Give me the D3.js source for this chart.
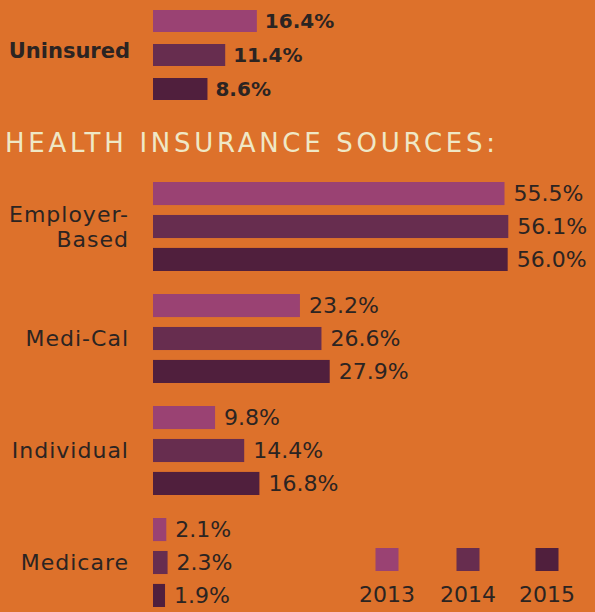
<!DOCTYPE html>
<html lang="en">
<head>
    <meta charset="UTF-8">
    <title>Health Insurance Sources</title>
    <script src="https://d3js.org/d3.v7.min.js"></script>
    <style>
        body { margin: 0; background: #dd712b; }
        svg { display: block; font-family: "DejaVu Sans", sans-serif; }
        .val { fill: #2b2422; font-size: 22px; }
        .cat { fill: #2b2422; font-size: 22px; letter-spacing: 1px; }
        .bold { font-weight: 700; letter-spacing: 0; }
    </style>
</head>
<body>
    <svg width="595" height="612"></svg>

    <script>
        // data
        const years = ['2013', '2014', '2015'];
        const uninsured = [16.4, 11.4, 8.6];
        const sources = ['Employer-Based', 'Medi-Cal', 'Individual', 'Medicare'];
        const employer = [55.5, 56.1, 56.0];
        const mediCal = [23.2, 26.6, 27.9];
        const individual = [9.8, 14.4, 16.8];
        const medicare = [2.1, 2.3, 1.9];
        const sourceValues = [employer, mediCal, individual, medicare];

        const colors = ['#9a4273', '#672d4f', '#501f3d'];
        const width = 595, height = 612;
        const x0 = 153;

        const svg = d3.select('svg');
        svg.append('rect').attr('width', width).attr('height', height).attr('fill', '#dd712b');

        const x = d3.scaleLinear().domain([0, 60]).range([0, 380]);
        const color = d3.scaleOrdinal().domain(years).range(colors);

        // uninsured block
        const yU = d3.scaleBand().domain(years).range([10, 100]).paddingInner(0.353);
        const gU = svg.append('g');
        gU.selectAll('rect')
            .data(uninsured)
            .join('rect')
            .attr('x', x0)
            .attr('y', (d, i) => yU(years[i]))
            .attr('width', d => x(d))
            .attr('height', yU.bandwidth())
            .attr('fill', (d, i) => color(years[i]));
        gU.selectAll('text')
            .data(uninsured)
            .join('text')
            .attr('class', 'val bold')
            .attr('font-size', 20)
            .attr('x', d => x0 + x(d) + 8)
            .attr('y', (d, i) => yU(years[i]) + yU.bandwidth() / 2)
            .attr('dy', '0.36em')
            .style('font-size', '20px')
            .text(d => d.toFixed(1) + '%');
        svg.append('text')
            .attr('class', 'cat bold')
            .attr('x', 130)
            .attr('y', 50)
            .attr('dy', '0.36em')
            .attr('text-anchor', 'end')
            .style('font-size', '21px')
            .text('Uninsured');

        // heading
        svg.append('text')
            .attr('x', 5)
            .attr('y', 152)
            .attr('fill', '#efe8c6')
            .attr('font-size', 26)
            .attr('textLength', 490)
            .attr('lengthAdjust', 'spacing')
            .text('HEALTH INSURANCE SOURCES:');

        // sources
        const yG = d3.scaleBand().domain(sources).range([182, 630]);
        const yB = d3.scaleBand().domain(years).range([0, 89]).paddingInner(0.3);

        const group = svg.append('g')
            .selectAll('g')
            .data(sources)
            .join('g')
            .attr('transform', d => `translate(0,${yG(d)})`);

        group.selectAll('rect')
            .data((d, i) => sourceValues[i])
            .join('rect')
            .attr('x', x0)
            .attr('y', (d, i) => yB(years[i]))
            .attr('width', d => x(d))
            .attr('height', yB.bandwidth())
            .attr('fill', (d, i) => color(years[i]));

        group.selectAll('text.val')
            .data((d, i) => sourceValues[i])
            .join('text')
            .attr('class', 'val')
            .attr('x', d => x0 + x(d) + 9)
            .attr('y', (d, i) => yB(years[i]) + yB.bandwidth() / 2)
            .attr('dy', '0.36em')
            .text(d => d.toFixed(1) + '%');

        group.append('text')
            .attr('class', 'cat')
            .attr('text-anchor', 'end')
            .attr('x', 129)
            .attr('y', 44)
            .attr('dy', d => d.includes('-B') ? '-0.2em' : '0.36em')
            .selectAll('tspan')
            .data(d => d.includes('-B') ? ['Employer-', 'Based'] : [d])
            .join('tspan')
            .attr('x', 129)
            .attr('dy', (d, i) => i === 0 ? null : 25)
            .text(d => d);

        // legend
        const legend = svg.append('g')
            .selectAll('g')
            .data(years)
            .join('g')
            .attr('transform', (d, i) => `translate(${[387, 468, 547][i]},0)`);
        legend.append('rect')
            .attr('x', -11.5)
            .attr('y', 548)
            .attr('width', 23)
            .attr('height', 23)
            .attr('fill', d => color(d));
        legend.append('text')
            .attr('class', 'val')
            .attr('text-anchor', 'middle')
            .attr('y', 602)
            .text(d => d);
    </script>
</body>
</html>
